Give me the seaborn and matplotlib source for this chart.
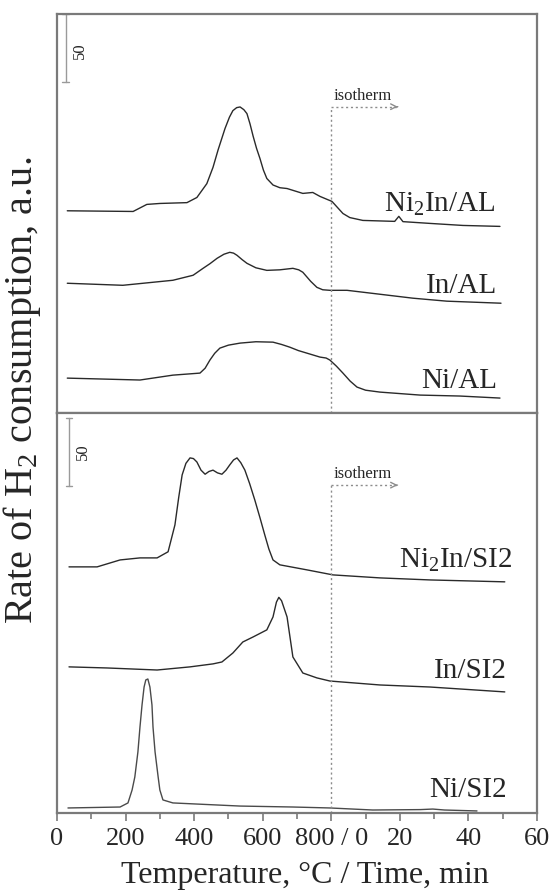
import numpy as np
import pandas as pd
import matplotlib
matplotlib.use("Agg")
import matplotlib.pyplot as plt
from matplotlib.ticker import MultipleLocator
import seaborn as sns

# ---- axis: temperature (deg C) 0..800, then isotherm time 0..60 min (800 + 10*min)
tick_pos = [0, 200, 400, 600, 800, 1000, 1200, 1400]
tick_labels = ["0", "200", "400", "600", "800 / 0", "20", "40", "60"]

# ---- upper panel (AL supports)
ni2in_al_x = [30, 222, 262, 300, 379, 408, 437, 455, 470, 490, 503, 513, 524, 534, 545, 554,
              563, 572, 582, 592, 602, 612, 630, 650, 671, 717, 746, 767, 802, 834, 854, 892,
              985, 997, 1009, 1088, 1184, 1292]
ni2in_al_y = [149, 148.5, 153.7, 154.4, 155, 158.8, 169, 181, 194, 209.6, 218, 222.8, 225,
              225.5, 223.5, 220.6, 213, 204, 195, 187.5, 179, 172.8, 168, 166, 165.4, 161.8,
              162.5, 159.6, 155.9, 147, 144, 141.9, 141.2, 144.9, 141, 139.7, 138.2, 137.5]

in_al_x = [30, 192, 338, 397, 426, 446, 467, 487, 504, 515, 525, 540, 554, 580, 612, 650, 688,
           705, 717, 740, 758, 775, 796, 846, 942, 1038, 1137, 1295]
in_al_y = [95.6, 94.1, 97.8, 101.5, 106.6, 110, 114, 117, 118.4, 117.8, 116.2, 113, 110.3, 107,
           105.1, 105.5, 106.6, 105.5, 103.7, 97, 92.6, 90.8, 90.4, 90.4, 87.5, 84.6, 82.4,
           80.9]

ni_al_x = [30, 242, 338, 417, 432, 446, 460, 475, 500, 534, 580, 630, 655, 679, 704, 729, 767,
           785, 796, 815, 834, 855, 875, 900, 942, 1059, 1175, 1292]
ni_al_y = [25.7, 24.3, 27.9, 29.4, 33, 39, 44, 47.8, 50, 51.5, 52.5, 52.2, 50.5, 48.5, 46,
           44.1, 41.2, 40.5, 39, 34.5, 29.4, 23.5, 19.1, 16.8, 15.4, 13.2, 12.5, 11]

# ---- lower panel (SI2 supports)
ni2in_si2_x = [35, 117, 184, 242, 292, 324, 344, 355, 365, 376, 388, 398, 408, 420, 432, 443,
               455, 468, 481, 493, 504, 515, 525, 536, 548, 562, 577, 592, 606, 618, 630, 650,
               729, 805, 942, 1088, 1306]
ni2in_si2_y = [180.9, 180.9, 186, 187.5, 187.5, 192, 211.8, 232, 248.5, 257, 261, 260.5, 258,
               252, 249, 251, 252, 250, 249, 252, 255.9, 259.5, 261, 257.5, 252, 242, 230,
               217, 204.4, 194, 186, 182.4, 178.7, 175, 172.8, 171.3, 169.9]

in_si2_x = [35, 146, 292, 388, 455, 481, 513, 542, 572, 612, 630, 640, 647, 655, 671, 688,
            717, 758, 796, 942, 1088, 1306]
in_si2_y = [107.4, 106.6, 105.1, 107.4, 109.6, 111, 117.6, 125.7, 129.4, 134.6, 144.1, 155,
            158.5, 156, 144.1, 114.7, 102.9, 99.3, 97, 94.1, 92.6, 89]

ni_si2_x = [32, 184, 207, 219, 227, 236, 242, 248, 254, 259, 265, 271, 277, 280, 286, 295,
            300, 309, 338, 534, 688, 796, 921, 1060, 1096, 1130, 1225]
ni_si2_y = [3.7, 4.4, 7.4, 16.9, 26.5, 44.9, 63.2, 79.4, 92.6, 97.8, 98.5, 92.6, 79.4, 63.2,
            44.9, 26.5, 16.9, 9.6, 7.4, 5.1, 4.4, 3.7, 2.2, 2.5, 2.9, 2.2, 1.5]

top_names = ["Ni$_2$In/AL", "In/AL", "Ni/AL"]
bot_names = ["Ni$_2$In/SI2", "In/SI2", "Ni/SI2"]

scale_value = 50
isotherm_start = 800

# ---------------------------------------------------------------------------
sns.set_style("ticks")
plt.rcParams["font.family"] = ["Liberation Serif", "DejaVu Serif"]
plt.rcParams["mathtext.fontset"] = "custom"
plt.rcParams["mathtext.rm"] = "Liberation Serif"
plt.rcParams["mathtext.it"] = "Liberation Serif:italic"

W, H = 551, 894
fig = plt.figure(figsize=(W / 100, H / 100), dpi=100)
L, R = 57 / W, 537 / W
ax_top = fig.add_axes([L, (H - 413) / H, R - L, 399 / H])
ax_bot = fig.add_axes([L, (H - 813) / H, R - L, 400 / H])

frame_c = "#7a7a7a"
line_c = "#2a2a2a"
dash_c = "#8c8c8c"

top_df = pd.concat([
    pd.DataFrame({"x": ni2in_al_x, "y": ni2in_al_y, "s": top_names[0]}),
    pd.DataFrame({"x": in_al_x, "y": in_al_y, "s": top_names[1]}),
    pd.DataFrame({"x": ni_al_x, "y": ni_al_y, "s": top_names[2]}),
])
bot_df = pd.concat([
    pd.DataFrame({"x": ni2in_si2_x, "y": ni2in_si2_y, "s": bot_names[0]}),
    pd.DataFrame({"x": in_si2_x, "y": in_si2_y, "s": bot_names[1]}),
    pd.DataFrame({"x": ni_si2_x, "y": ni_si2_y, "s": bot_names[2]}),
])

sns.lineplot(data=top_df, x="x", y="y", units="s", estimator=None, sort=False,
             color=line_c, lw=1.0, ax=ax_top, legend=False)
pal_bot = {bot_names[0]: line_c, bot_names[1]: line_c, bot_names[2]: "#4a4a4a"}
sns.lineplot(data=bot_df, x="x", y="y", hue="s", palette=pal_bot, estimator=None,
             sort=False, lw=1.0, ax=ax_bot, legend=False)

# labels
lab_fs = 21
ax_top.text(1280, 148.5, top_names[0], ha="right", va="baseline", fontsize=lab_fs)
ax_top.text(1283, 88.2, top_names[1], ha="right", va="baseline", fontsize=lab_fs)
ax_top.text(1283, 18.4, top_names[2], ha="right", va="baseline", fontsize=lab_fs)
ax_bot.text(1327, 180, bot_names[0], ha="right", va="baseline", fontsize=lab_fs)
ax_bot.text(1312, 99.3, bot_names[1], ha="right", va="baseline", fontsize=lab_fs)
ax_bot.text(1312, 11.8, bot_names[2], ha="right", va="baseline", fontsize=lab_fs)

YMAX = 294
for ax, (bar_x, bar_top), (txt_x, txt_y), arr_y, txt_base in [
        (ax_top, (26, 294), (67, 267), 225.7, 231),
        (ax_bot, (35, 290.4), (76, 265.4), 241, 246)]:
    ax.set_xlim(0, 1400)
    ax.set_ylim(0, YMAX)
    ax.set_yticks([])
    ax.set_xticks(tick_pos)
    ax.xaxis.set_minor_locator(MultipleLocator(100))
    ax.tick_params(axis="x", which="major", direction="out", length=6, width=1.2,
                   color=frame_c, labelsize=19, pad=5)
    ax.tick_params(axis="x", which="minor", direction="out", length=4, width=1.2,
                   color=frame_c)
    for sp in ax.spines.values():
        sp.set_visible(True)
        sp.set_color(frame_c)
        sp.set_linewidth(1.6)
    ax.set_xlabel("")
    ax.set_ylabel("")
    # scale bar
    ax.plot([bar_x, bar_x], [bar_top, bar_top - scale_value], color="#9a9a9a", lw=1.0)
    for yy in (bar_top, bar_top - scale_value):
        ax.plot([bar_x - 10, bar_x + 10], [yy, yy], color="#9a9a9a", lw=1.0)
    ax.text(txt_x, txt_y, str(scale_value), rotation=90, ha="center", va="center",
            fontsize=12)
    # isotherm marker
    ax.plot([isotherm_start, isotherm_start], [0, arr_y], ls=(0, (1.5, 2)), color=dash_c,
            lw=1.0)
    ax.plot([isotherm_start, 992], [arr_y, arr_y], ls=(0, (1.5, 2)), color=dash_c, lw=1.0)
    ax.annotate("", xy=(1002, arr_y), xytext=(985, arr_y),
                arrowprops=dict(arrowstyle="->", color=dash_c, lw=1.0))
    ax.text(808, txt_base, "isotherm", ha="left", va="baseline", fontsize=12)

ax_top.tick_params(axis="x", labelbottom=False)
ax_bot.set_xticklabels(tick_labels)

fig.text(305 / W, (H - 876) / H, "Temperature, \u00b0C / Time, min", ha="center",
         va="center", fontsize=23)
fig.text(22 / W, (H - 390) / H, "Rate of H$_2$ consumption, a.u.", rotation=90,
         ha="center", va="center", fontsize=29)

fig.savefig("out.png", dpi=100)
